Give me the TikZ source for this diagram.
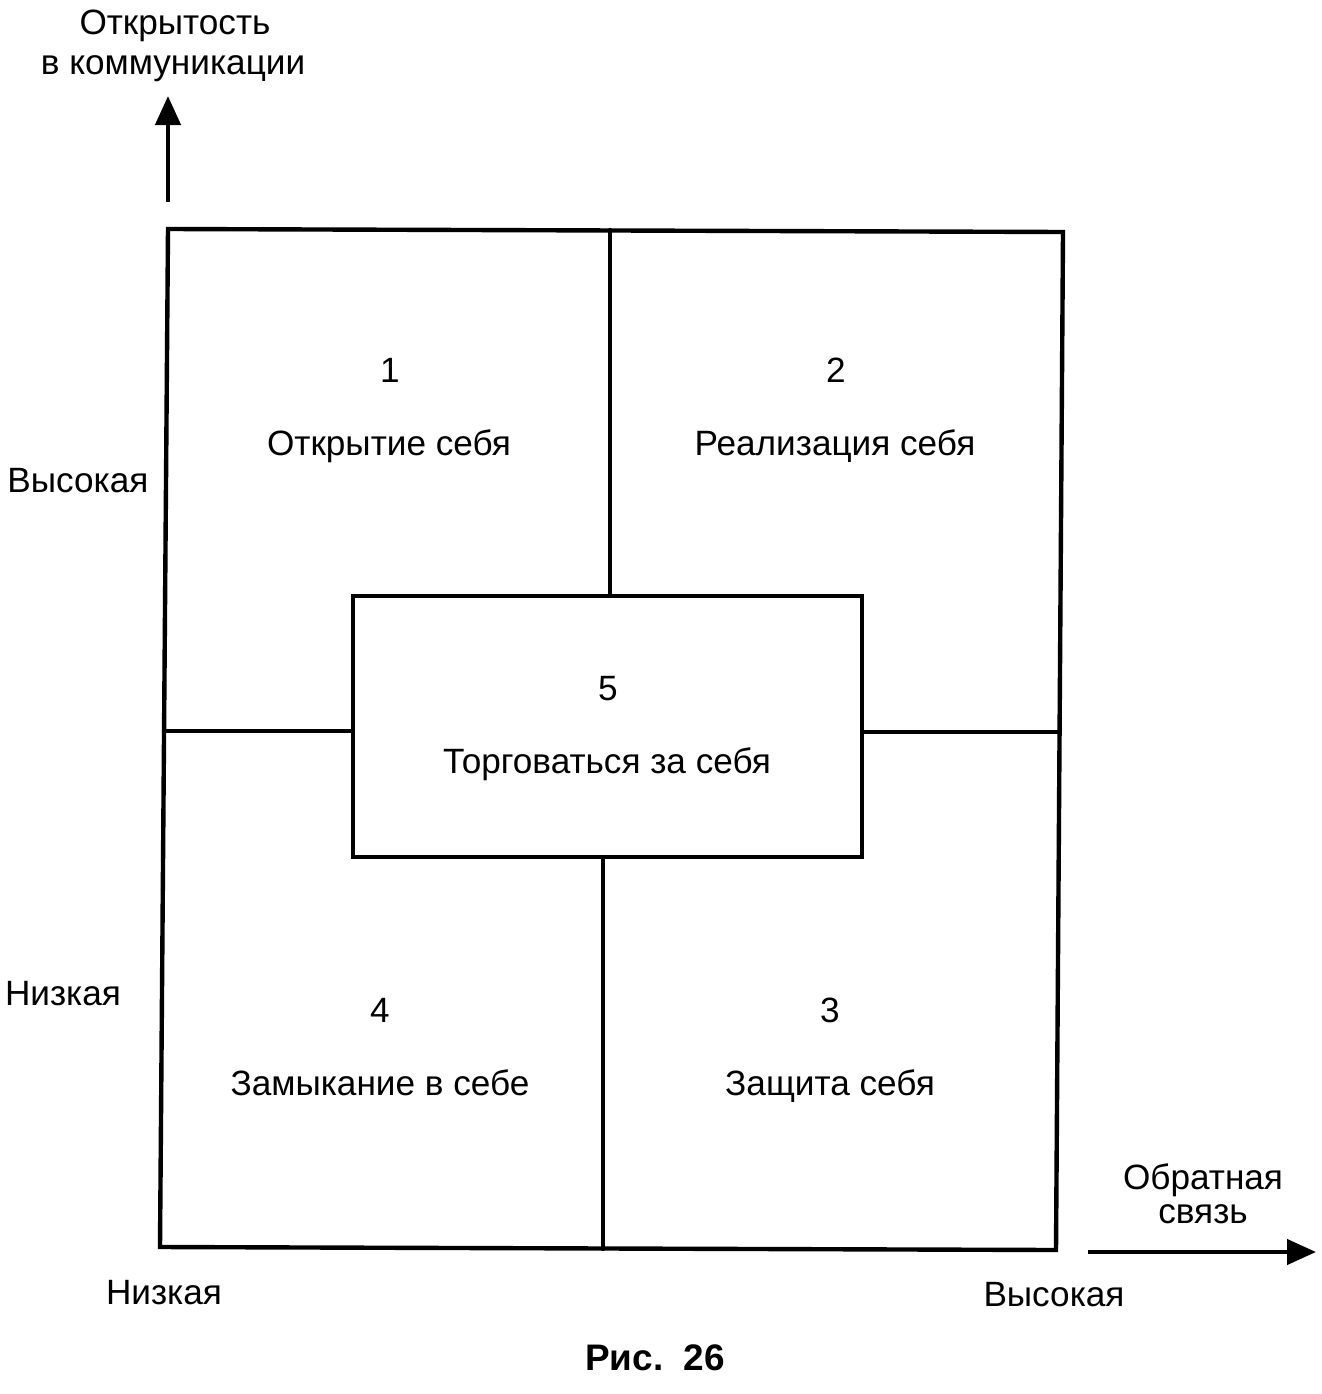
\documentclass[tikz,border=0pt]{standalone}
\usepackage{fontspec}
\setmainfont{Liberation Sans}
\usetikzlibrary{arrows.meta}

\tikzset{
  frameline/.style={line width=1.25pt, line cap=round, line join=miter},
  axis/.style={line width=1.25pt, -{Triangle[length=0.29cm,width=0.25cm]}},
  txt/.style={font=\fontsize{10}{12}\selectfont, inner sep=0pt, anchor=base},
}

\begin{document}
\begin{tikzpicture}[x=0.01cm, y=-0.01cm]
    \useasboundingbox (0,0) rectangle (1321,1394);

    % Outer frame
    \coordinate (tl) at (168,229);
    \coordinate (tr) at (1063,232);
    \coordinate (br) at (1056,1250);
    \coordinate (bl) at (160,1247);
    \draw[frameline] (tl) -- (tr) -- (br) -- (bl) -- cycle;

    % Centre box
    \node[draw, frameline, minimum width=5.09cm, minimum height=2.61cm, inner sep=0pt] (mid) at (607.5,726.5) {};

    % Dividers
    \coordinate (top) at (610,230);
    \coordinate (bot) at (603,1249);
    \coordinate (lft) at (164,731);
    \coordinate (rgt) at (1059,732);
    \draw[frameline] (top) -- (mid.north -| top);
    \draw[frameline] (bot) -- (mid.south -| bot);
    \draw[frameline] (lft) -- (mid.west |- lft);
    \draw[frameline] (rgt) -- (mid.east |- rgt);

    % Quadrants
    \node[txt] (n1) at (390,382) {1};
    \node[txt] (q1) at (389,455) {Открытие себя};
    \node[txt] (n2) at (836,382) {2};
    \node[txt] (q2) at (835,455) {Реализация себя};
    \node[txt] (n5) at (608,700) {5};
    \node[txt] (q5) at (607,773) {Торговаться за себя};
    \node[txt] (n4) at (380,1022) {4};
    \node[txt] (q4) at (380,1095) {Замыкание в себе};
    \node[txt] (n3) at (830,1022) {3};
    \node[txt] (q3) at (830,1095) {Защита себя};

    % Axes
    \coordinate (ybase) at (168,202);
    \coordinate (ytip) at (168,96);
    \draw[axis] (ybase) -- (ytip);
    \node[txt] (ylab1) at (175,35) {Открытость};
    \node[txt] (ylab2) at (173,75) {в коммуникации};

    \coordinate (xbase) at (1088,1252);
    \coordinate (xtip) at (1316,1252);
    \draw[axis] (xbase) -- (xtip);
    \node[txt] (xlab1) at (1203,1189) {Обратная};
    \node[txt] (xlab2) at (1203,1223) {связь};

    % Scale labels
    \node[txt] (yhigh) at (78,492) {Высокая};
    \node[txt] (ylow) at (63,1005) {Низкая};
    \node[txt] (xlow) at (164,1304) {Низкая};
    \node[txt] (xhigh) at (1054,1306) {Высокая};

    % Caption
    \node[txt, font=\fontsize{10.5}{12}\bfseries] (cap) at (655,1370) {Рис.\ \ 26};
\end{tikzpicture}
\end{document}
